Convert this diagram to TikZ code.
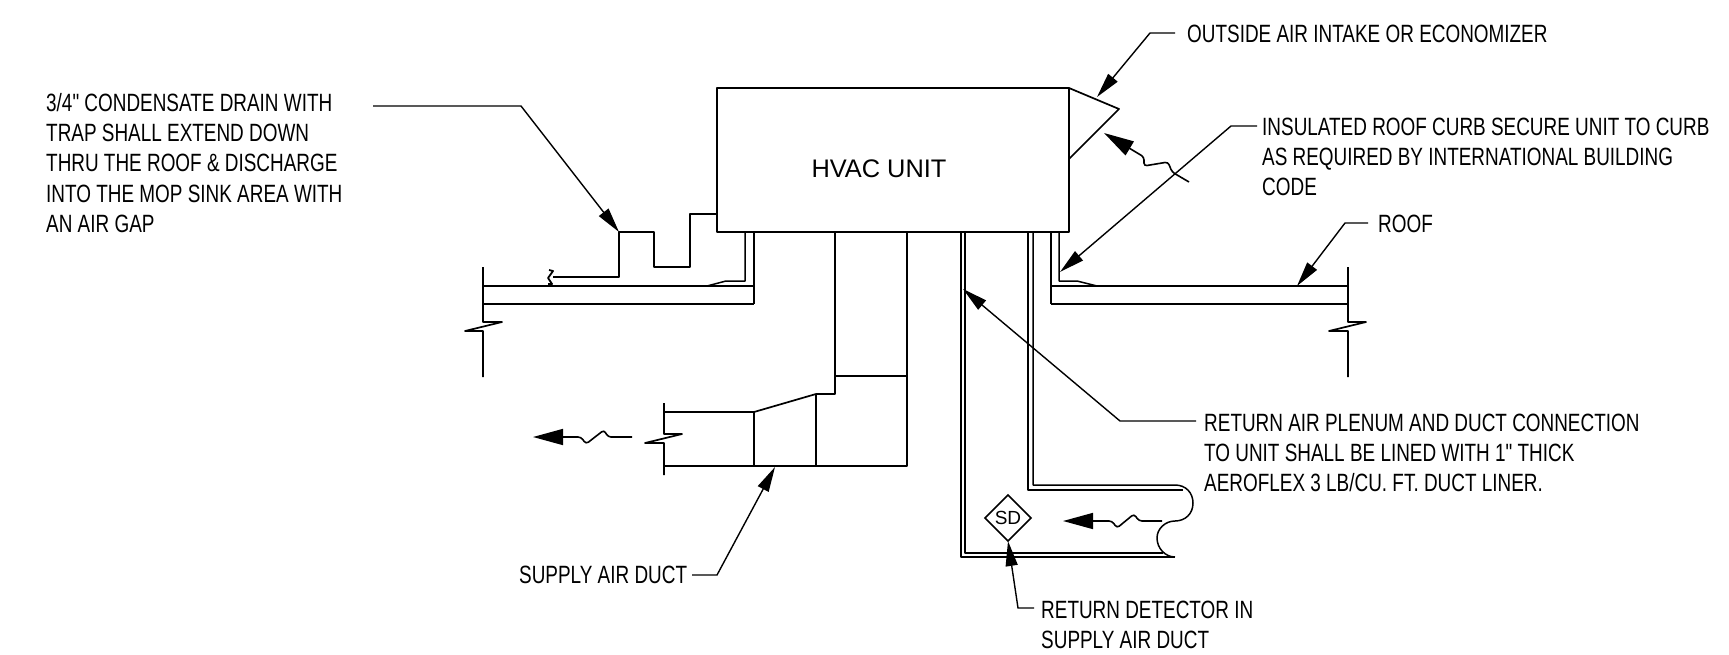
\documentclass[tikz,border=0pt]{standalone}
\usepackage{fontspec}
\setmainfont{Liberation Sans}
\newfontfamily\lblfont[FakeStretch=0.757]{Liberation Sans}
\usetikzlibrary{arrows.meta,shapes.geometric}
\tikzset{
  ln/.style={line width=1.7pt,line join=round,black},
  thin ln/.style={line width=1.5pt,line join=round,black},
  leader/.style={line width=1.4pt,black,-{Triangle[length=25pt,width=12pt]}},
  flow/.style={line width=1.6pt,black,{Triangle[length=30pt,width=16pt]}-,rounded corners=3pt},
  lbl/.style={inner sep=0pt,anchor=west,align=left,font=\lblfont\fontsize{25}{30.2}\selectfont},
}
\begin{document}
\begin{tikzpicture}[x=1pt,y=-1pt]
\useasboundingbox (0,0) rectangle (1729,654);
% unit
\node[ln,draw,fill=white,outer sep=0pt,minimum width=352pt,minimum height=144pt,inner sep=0pt,anchor=north west] (unit) at (717,88) {};
\node[inner sep=0pt,font=\fontsize{25.4}{30}\selectfont] (unitlabel) at (879,169) {HVAC UNIT};
\draw[ln] (unit.north east) -- (1119,109) -- (1069,159);
% left roof
\draw[ln] (483,267) -- (483,322) -- (502,322) -- (465,331) -- (483,331) -- (483,377);
\draw[ln] (483,286) -- (754,286) (483,304) -- (754,304) (754,232) -- (754,304);
\draw[thin ln] (745,232) -- (745,281) -- (726,281) -- (707,286);
% right roof
\draw[ln] (1348,267) -- (1348,322) -- (1366,322) -- (1329,331) -- (1348,331) -- (1348,377);
\draw[ln] (1051,286) -- (1348,286) (1051,304) -- (1348,304) (1051,232) -- (1051,304);
\draw[thin ln] (1059,232) -- (1059,281) -- (1077,281) -- (1097,286);
% drain
\draw[ln] (553,277) -- (619,277) -- (619,232) -- (654,232) -- (654,267) -- (690,267) -- (690,214) -- (717,214);
\draw[line width=1.8pt,line join=round] (549,270) -- (553,271) -- (548,278) -- (552,284) -- (548,284);
% supply duct
\draw[ln] (835,232) -- (835,394) -- (816,394) -- (754,412) -- (664,412);
\draw[ln] (907,232) -- (907,466) -- (664,466);
\draw[ln] (835,376) -- (907,376) (816,394) -- (816,466) (754,412) -- (754,466);
\draw[ln] (664,403) -- (664,434) -- (682,434) -- (645,443) -- (664,443) -- (664,475);
% return duct
\draw[thin ln] (961,232) -- (961,557) -- (1175,557);
\draw[thin ln] (965,232) -- (965,553) -- (1163,553);
\draw[thin ln] (1028,232) -- (1028,490) -- (1183,490);
\draw[thin ln] (1033,232) -- (1033,485) -- (1175,485)
  .. controls (1186,485) and (1193,493) .. (1193,503)
  .. controls (1193,514) and (1185,521) .. (1175,521)
  .. controls (1165,521) and (1157,529) .. (1157,538)
  .. controls (1157,548) and (1165,557) .. (1175,557);
% smoke detector
\node[draw,line width=1.5pt,diamond,aspect=1,inner sep=0pt,outer sep=0pt,minimum width=46pt,minimum height=46pt,font=\fontsize{19}{20}\selectfont] (sd) at (1008,518) {SD};
% flow arrows
\coordinate (f1tip) at (533,437); \coordinate (f1end) at (632,437);
\draw[flow] (f1tip) -- (581,437) -- (586,444) -- (604,430) -- (608,437) -- (f1end);
\coordinate (f2tip) at (1063,521); \coordinate (f2end) at (1162,521);
\draw[flow] (f2tip) -- (1112,521) -- (1117,528) -- (1134,514) -- (1139,521) -- (f2end);
\coordinate (f3tip) at (1104,133); \coordinate (f3end) at (1189,182);
\draw[flow] (f3tip) -- (1144,157) -- (1144,166) -- (1168,162) -- (1172,172) -- (f3end);
% labels
\node[lbl] (ldrain) at (46,163) {3/4" CONDENSATE DRAIN WITH\\TRAP SHALL EXTEND DOWN\\THRU THE ROOF \& DISCHARGE\\INTO THE MOP SINK AREA WITH\\AN AIR GAP};
\node[lbl] (lout) at (1187,34) {OUTSIDE AIR INTAKE OR ECONOMIZER};
\node[lbl] (lcurb) at (1262,157) {INSULATED ROOF CURB SECURE UNIT TO CURB\\AS REQUIRED BY INTERNATIONAL BUILDING\\CODE};
\node[lbl] (lroof) at (1378,224) {ROOF};
\node[lbl] (lret) at (1204,453) {RETURN AIR PLENUM AND DUCT CONNECTION\\TO UNIT SHALL BE LINED WITH 1" THICK\\AEROFLEX 3 LB/CU. FT. DUCT LINER.};
\node[lbl] (lsup) at (519,575) {SUPPLY AIR DUCT};
\node[lbl] (ldet) at (1041,625) {RETURN DETECTOR IN\\SUPPLY AIR DUCT};
% leader targets
\coordinate (tdrain) at (619,232);
\coordinate (tout) at (1097,97);
\coordinate (tcurb) at (1060,272);
\coordinate (troof) at (1297,286);
\coordinate (tret) at (963,289);
\coordinate (tsup) at (775,467);
\coordinate (sdrain) at (373,106);
\coordinate (scurb) at (1257,126);
\coordinate (sret) at (1196,421);
\coordinate (sdet) at (1034,608);
\coordinate (sout) at (1175,33);
\coordinate (sroof) at (1368,223);
\coordinate (ssup) at (692,575);
% leaders
\draw[leader] (sdrain) -- (521,106) -- (tdrain);
\draw[leader] (sout) -- (1150,33) -- (tout);
\draw[leader] (scurb) -- (1231,126) -- (tcurb);
\draw[leader] (sroof) -- (1345,223) -- (troof);
\draw[leader] (sret) -- (1120,421) -- (tret);
\draw[leader] (ssup) -- (717,575) -- (tsup);
\draw[leader] (sdet) -- (1018,608) -- (sd.south);
\end{tikzpicture}
\end{document}
